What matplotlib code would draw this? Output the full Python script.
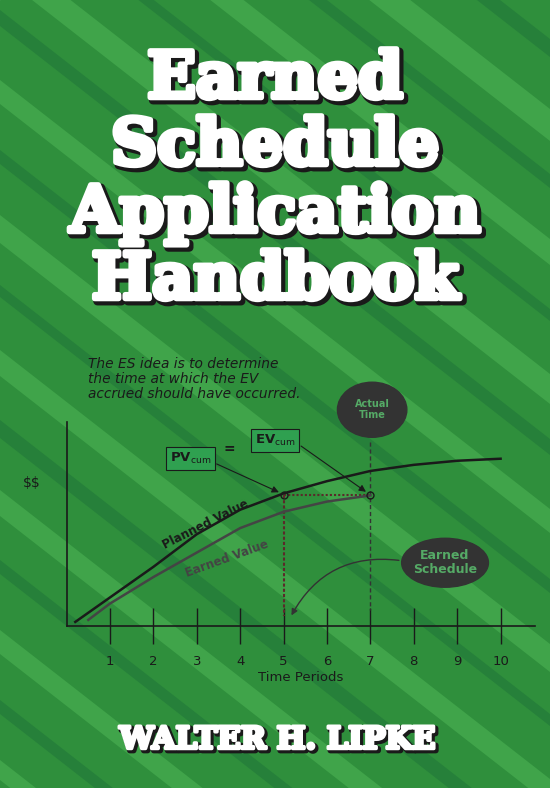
import matplotlib
matplotlib.use("Agg")
import matplotlib.pyplot as plt
import matplotlib.patheffects as pe
from matplotlib.patches import Ellipse, FancyArrowPatch, Polygon

# ------------------------------------------------------------------
# Data (read off the cover)
# ------------------------------------------------------------------
TITLE_LINES = ["Earned", "Schedule", "Application", "Handbook"]
AUTHOR = "WALTER H. LIPKE"
NOTE = "The ES idea is to determine\nthe time at which the EV\naccrued should have occurred."

pv_t = [0.2, 1, 2, 3, 4, 5, 6, 7, 8, 9, 10]
pv_v = [2, 14, 29, 45, 57, 65, 71, 76, 79, 81, 82]
ev_t = [0.5, 1, 2, 3, 4, 5, 6, 7]
ev_v = [3, 11, 24, 36, 48, 56, 61, 64]
ticks = list(range(1, 11))
es_t, at_t, match_v = 5, 7, 64

BASE = "#2f8f3c"
LIGHT = "#40a44a"
DARK = "#26803a"
INK = "#1a1a1a"
GREY = "#444444"

fig = plt.figure(figsize=(5.5, 7.88), dpi=100)
bg = fig.add_axes([0, 0, 1, 1])
bg.set_xlim(0, 550)
bg.set_ylim(788, 0)
bg.axis("off")
bg.add_patch(Polygon([[0, 0], [550, 0], [550, 788], [0, 788]], color=BASE, zorder=0))

# diagonal stripes (down-right)
slope = 0.78
offsets = [-720, -660, -600, -520, -455, -390, -320, -255, -190, -120, -55, 10, 80, 150,
           215, 285, 350, 420, 490, 560, 630, 700, 760]
widths = [24, 14, 30, 12, 26, 18, 32, 14, 26, 12, 30, 16, 24, 14, 28, 12, 26, 18, 26, 14,
          24, 14, 20]
for k, (o, w) in enumerate(zip(offsets, widths)):
    c = LIGHT if k % 2 == 0 else DARK
    pts = [[-50, o - 50 * slope], [650, o + 650 * slope],
           [650, o + w + 650 * slope], [-50, o + w - 50 * slope]]
    bg.add_patch(Polygon(pts, color=c, zorder=1, lw=0))

title_fx = [pe.Stroke(linewidth=6, foreground="#1a1a1a", offset=(2, -2)),
            pe.Stroke(linewidth=4, foreground="white"),
            pe.Normal()]
for i, line in enumerate(TITLE_LINES):
    bg.text(275, 80 + i * 67, line, ha="center", va="center", fontsize=46,
            family="DejaVu Serif", weight="bold", color="white",
            path_effects=title_fx, zorder=5)

bg.text(277, 740, AUTHOR, ha="center", va="center", fontsize=22,
        family="DejaVu Serif", weight="bold", color="white",
        path_effects=[pe.Stroke(linewidth=4, foreground="#1a1a1a", offset=(1.5, -1.5)),
                      pe.Stroke(linewidth=2.5, foreground="white"), pe.Normal()], zorder=5)

bg.text(88, 357, NOTE, ha="left", va="top", fontsize=9.9, style="italic",
        color=INK, linespacing=1.1, zorder=5)

# ------------------------------------------------------------------
# Chart in pixel-positioned axes: x 0..10.8 -> 66..535 px, y 0..100 -> 626..422 px
# ------------------------------------------------------------------
x0, x1 = 66.6, 535
y0, y1 = 626, 422
ax = fig.add_axes([x0 / 550, 1 - y0 / 788, (x1 - x0) / 550, (y0 - y1) / 788])
ax.set_xlim(0, (x1 - x0) / 43.4)
ax.set_ylim(0, 100)
ax.patch.set_alpha(0)
for s in ["top", "right"]:
    ax.spines[s].set_visible(False)
for s in ["left", "bottom"]:
    ax.spines[s].set_color(INK)
    ax.spines[s].set_linewidth(1.2)
ax.set_xticks(ticks)
ax.set_xticklabels([str(t) for t in ticks], fontsize=9.5, color=INK)
ax.tick_params(axis="x", direction="inout", length=26, width=1, color=INK, pad=8)
ax.set_yticks([])
ax.set_xlabel("Time Periods", fontsize=9.5, color=INK, labelpad=2)
ax.text(-0.8, 70, r"\$\$", fontsize=10, color=INK, ha="center", va="center", clip_on=False)

ax.plot(pv_t, pv_v, color=INK, lw=1.8, zorder=4)
ax.plot(ev_t, ev_v, color=GREY, lw=1.8, zorder=4)
ax.text(3.2, 50, "Planned Value", rotation=27, fontsize=8.5, weight="bold",
        color=INK, ha="center", va="center")
ax.text(3.7, 33, "Earned Value", rotation=20, fontsize=8.5, weight="bold",
        color=GREY, ha="center", va="center")

ax.plot([es_t, at_t], [match_v, match_v], ls=(0, (1, 1)), color="#5a2a2a", lw=1.5, zorder=3)
ax.plot([es_t, es_t], [match_v, 5], ls=(0, (1.5, 1)), color="#5a2a2a", lw=1.5, zorder=3)
ax.plot([at_t, at_t], [90, 8], ls=(0, (3, 2)), color="#333333", lw=1, zorder=3)
ax.plot([es_t, at_t], [match_v, match_v], "o", ms=5, mfc="none", mec=INK, zorder=5)

box_kw = dict(boxstyle="square,pad=0.3", fc="#2fa050", ec=INK, lw=0.8)
ax.text(2.85, 82, r"PV$_{\mathrm{cum}}$", fontsize=9.5, weight="bold", color=INK,
        ha="center", va="center", bbox=box_kw)
ax.text(3.75, 87, "=", fontsize=10, weight="bold", color=INK, ha="center", va="center")
ax.text(4.8, 91, r"EV$_{\mathrm{cum}}$", fontsize=9.5, weight="bold", color=INK,
        ha="center", va="center", bbox=box_kw)
ax.annotate("", xy=(es_t - 0.05, match_v + 1), xytext=(3.4, 80),
            arrowprops=dict(arrowstyle="-|>", color=INK, lw=0.8))
ax.annotate("", xy=(at_t - 0.05, match_v + 1), xytext=(5.35, 89),
            arrowprops=dict(arrowstyle="-|>", color=INK, lw=0.8))

ax.add_patch(Ellipse((7.04, 106), 1.6, 27, color="#333333", clip_on=False, zorder=4))
ax.text(7.04, 106, "Actual\nTime", fontsize=7, color="#55aa66", weight="bold",
        ha="center", va="center", linespacing=1.1, zorder=5, clip_on=False)
ax.add_patch(Ellipse((8.72, 31), 2.0, 24, color="#333333", zorder=4))
ax.text(8.72, 31, "Earned\nSchedule", fontsize=9, color="#55aa66", weight="bold",
        ha="center", va="center", linespacing=1.1, zorder=5)
ax.add_patch(FancyArrowPatch((7.72, 32), (es_t + 0.15, 4),
                             connectionstyle="arc3,rad=0.35", arrowstyle="-|>",
                             mutation_scale=9, color="#333333", lw=1, zorder=4))

fig.savefig("out.png", dpi=100)
